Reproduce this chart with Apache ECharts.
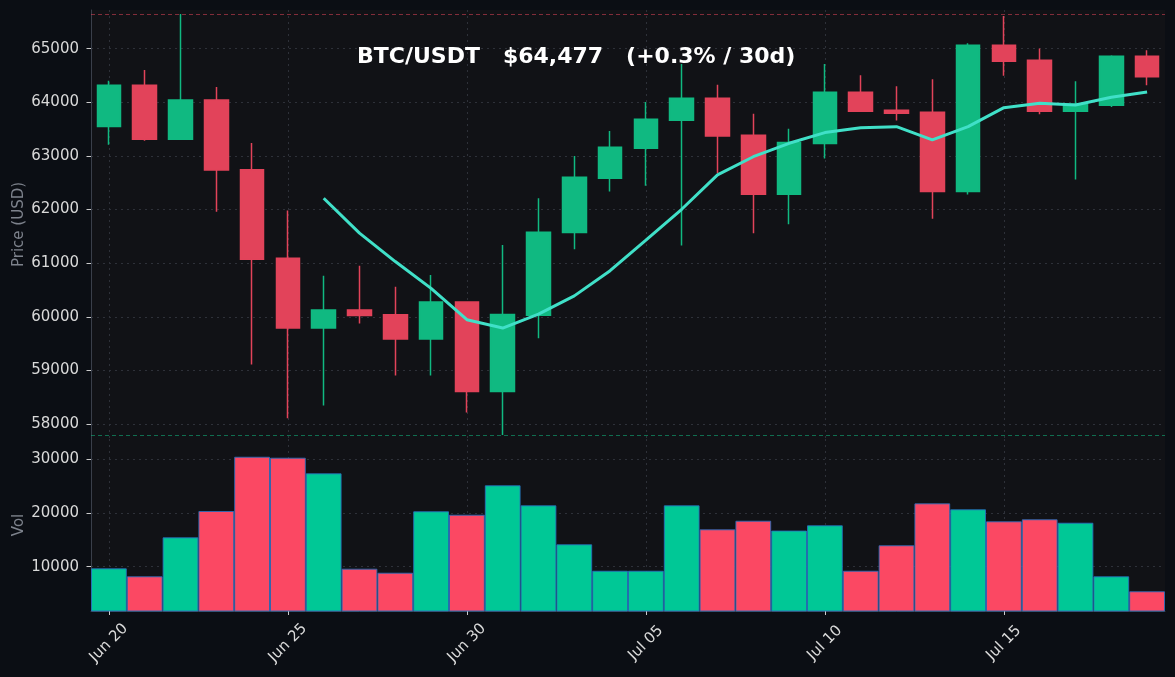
<!DOCTYPE html>
<html>
<head>
<meta charset="utf-8">
<script src="https://cdn.jsdelivr.net/npm/echarts@6/dist/echarts.min.js"></script>
<style>
html,body{margin:0;padding:0;background:#0b0e14;}
#chart{width:1175px;height:677px;}
</style>
</head>
<body>
<div id="chart"></div>
<script>
const dates = ['Jun 20','Jun 21','Jun 22','Jun 23','Jun 24','Jun 25','Jun 26','Jun 27','Jun 28','Jun 29',
  'Jun 30','Jul 01','Jul 02','Jul 03','Jul 04','Jul 05','Jul 06','Jul 07','Jul 08','Jul 09',
  'Jul 10','Jul 11','Jul 12','Jul 13','Jul 14','Jul 15','Jul 16','Jul 17','Jul 18','Jul 19'];
const opens  = [63550,64320,63310,64045,62740,61090,59790,60125,60040,59585,60275,58605,60030,61570,62585,63145,63665,64075,63385,62285,63230,64185,63850,63815,62335,65065,64785,63835,63945,64860];
const closes = [64320,63310,64045,62735,61075,59790,60125,60025,59585,60275,58605,60045,61575,62600,63160,63685,64075,63370,62285,63250,64185,63835,63795,62335,65065,64765,63835,63965,64860,64477];
const lows   = [63210,63285,63300,61960,59110,58110,58345,59875,58905,58905,58215,57795,59600,61260,62335,62445,61330,62680,61560,61725,62950,63830,63660,61830,62280,64495,63775,62560,63910,64320];
const highs  = [64400,64600,65645,64285,63240,61980,60765,60950,60560,60780,60275,61340,62210,63000,63465,64005,64715,64325,63785,63505,64715,64505,64300,64430,65100,65610,65005,64390,64875,64970];
const ma7    = ['-','-','-','-','-','-',62210,61560,61030,60530,59945,59790,60050,60390,60860,61430,62005,62645,62985,63235,63435,63525,63545,63300,63545,63900,63980,63950,64095,64190];
const volumes = [9700,8210,15470,20370,30480,30300,27390,9630,8880,20320,19680,25160,21430,14170,9250,9250,21430,16960,18560,16730,17710,9250,13990,21800,20690,18450,18830,18190,8210,5420];
const priceTicks = [58000,59000,60000,61000,62000,63000,64000,65000];
const volTicks = [10000,20000,30000];
const titleText = 'BTC/USDT   $64,477   (+0.3% / 30d)';

const UP = '#10b981', DOWN = '#e2435a';
const VUP = '#00c896', VDOWN = '#fb4863';
const FONT = 'DejaVu Sans';
const gridLine = {type:[2,4], color:'#2e3139', width:1};
const plain = v => String(Math.round(v));

const candleData = dates.map((d,i)=>[opens[i], closes[i], lows[i], highs[i]]);
const volData = volumes.map((v,i)=>({value:v, itemStyle:{color: closes[i] >= opens[i] ? VUP : VDOWN}}));

const chart = echarts.init(document.getElementById('chart'), null, {renderer:'canvas'});
chart.setOption({
  animation:false,
  backgroundColor:'#0b0e14',
  textStyle:{fontFamily:FONT},
  title:{text:titleText, left:352, top:41,
    textStyle:{color:'#ffffff', fontSize:22, fontWeight:'bold', fontFamily:FONT}},
  grid:[
    {left:91, right:10, top:10, height:429, show:true, backgroundColor:'#111216', borderWidth:0,
     containLabel:false, outerBoundsMode:'none'},
    {left:91, right:10, top:439, height:172, show:true, backgroundColor:'#111216', borderWidth:0,
     containLabel:false, outerBoundsMode:'none'}
  ],
  xAxis:[
    {type:'category', gridIndex:0, data:dates, boundaryGap:true,
     axisLine:{show:false}, axisTick:{show:false}, axisLabel:{show:false},
     splitLine:{show:true, interval:4, alignWithLabel:true, lineStyle:gridLine}},
    {type:'category', gridIndex:1, data:dates, boundaryGap:true,
     axisLine:{show:true, lineStyle:{color:'#3a3f4a'}},
     axisTick:{show:true, interval:4, alignWithLabel:true, length:4, lineStyle:{color:'#cccccc'}},
     axisLabel:{show:true, interval:4, rotate:45, align:'center', verticalAlign:'middle', margin:32,
       color:'#d9d9d9', fontSize:15, fontFamily:FONT},
     splitLine:{show:true, interval:4, alignWithLabel:true, lineStyle:gridLine}}
  ],
  yAxis:[
    {type:'value', gridIndex:0, min:57721, max:65721,
     name:'Price (USD)', nameLocation:'middle', nameGap:64, nameRotate:90, nameMoveOverlap:false,
     nameTextStyle:{color:'#7d828c', fontSize:15, fontFamily:FONT},
     axisLine:{show:true, lineStyle:{color:'#3a3f4a'}},
     axisTick:{show:true, length:4.5, customValues:priceTicks, lineStyle:{color:'#cccccc'}},
     axisLabel:{color:'#d9d9d9', fontSize:15, margin:12, fontFamily:FONT, customValues:priceTicks, formatter:plain},
     splitLine:{show:true, lineStyle:gridLine}},
    {type:'value', gridIndex:1, min:1750, max:33780,
     name:'Vol', nameLocation:'middle', nameGap:64, nameRotate:90, nameMoveOverlap:false,
     nameTextStyle:{color:'#7d828c', fontSize:15, fontFamily:FONT},
     axisLine:{show:true, lineStyle:{color:'#3a3f4a'}},
     axisTick:{show:true, length:4.5, customValues:volTicks, lineStyle:{color:'#cccccc'}},
     axisLabel:{color:'#d9d9d9', fontSize:15, margin:12, fontFamily:FONT, customValues:volTicks, formatter:plain},
     splitLine:{show:true, lineStyle:gridLine}}
  ],
  series:[
    {type:'candlestick', xAxisIndex:0, yAxisIndex:0, data:candleData, barWidth:24,
     itemStyle:{color:UP, color0:DOWN, borderColor:UP, borderColor0:DOWN, borderWidth:1.5},
     markLine:{symbol:['none','none'], silent:true, label:{show:false},
       data:[
         {type:'max', valueDim:'highest', lineStyle:{color:'rgba(226,67,90,0.55)', type:[4,3], width:1}},
         {type:'min', valueDim:'lowest', lineStyle:{color:'rgba(16,185,129,0.55)', type:[4,3], width:1}}
       ]}},
    {type:'line', xAxisIndex:0, yAxisIndex:0, data:ma7, symbol:'none', smooth:false,
     lineStyle:{color:'#40e0c8', width:3}, z:5},
    {type:'bar', xAxisIndex:1, yAxisIndex:1, data:volData, barCategoryGap:'0%',
     itemStyle:{borderColor:'rgba(40,110,190,0.85)', borderWidth:1}}
  ]
});
</script>
</body>
</html>
